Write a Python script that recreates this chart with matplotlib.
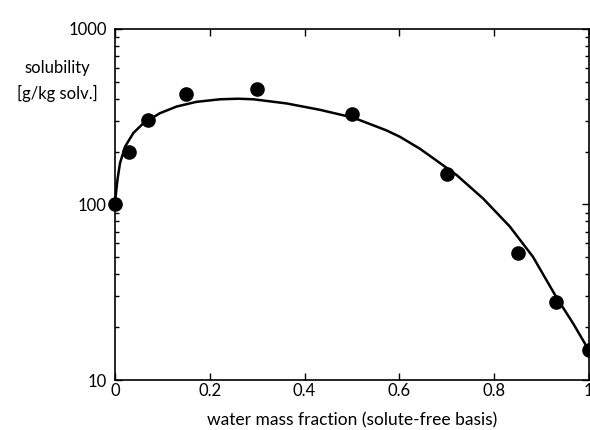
import numpy as np
import matplotlib.pyplot as plt
from matplotlib.ticker import LogLocator, NullFormatter, FixedLocator

plt.rcParams['font.family'] = ['Lato', 'DejaVu Sans']
plt.rcParams['font.size'] = 12

# measured points
x_data = [0.0, 0.03, 0.07, 0.15, 0.30, 0.50, 0.70, 0.85, 0.93, 1.0]
y_data = [100, 198, 303, 425, 457, 329, 150, 53, 28, 14.8]

# fitted curve
x_fit = [0.0, 0.002, 0.005, 0.0105, 0.021, 0.0386, 0.0597, 0.095, 0.130, 0.172,
         0.222, 0.26, 0.292, 0.362, 0.432, 0.503, 0.573, 0.601, 0.643, 0.672,
         0.721, 0.777, 0.833, 0.882, 0.931, 0.967, 1.0]
y_fit = [100, 116, 138, 172, 213, 255, 290, 331, 361, 384,
         397, 400, 397, 376, 346, 312, 264, 243, 208, 183,
         147, 108, 75, 50.4, 29.8, 21, 14.8]

fig = plt.figure(figsize=(5.9, 4.3), dpi=100)
ax = fig.add_axes([0.195, 0.116, 0.803, 0.817])

ax.plot(x_fit, y_fit, color='black', lw=1.8, solid_joinstyle='round', clip_on=False)
ax.plot(x_data, y_data, 'o', color='black', ms=9.5, clip_on=False, zorder=3)

ax.set_yscale('log')
ax.set_xlim(0, 1)
ax.set_ylim(10, 1000)
ax.xaxis.set_major_locator(FixedLocator([0, 0.2, 0.4, 0.6, 0.8, 1.0]))
ax.set_xticklabels(['0', '0.2', '0.4', '0.6', '0.8', '1'])
ax.yaxis.set_major_locator(FixedLocator([10, 100, 1000]))
ax.set_yticklabels(['10', '100', '1000'])
ax.yaxis.set_minor_locator(LogLocator(base=10, subs=np.arange(2, 10)))
ax.yaxis.set_minor_formatter(NullFormatter())

ax.tick_params(which='both', direction='in', top=True, right=True)
ax.tick_params(axis='x', pad=2)
ax.tick_params(axis='y', pad=6)
ax.tick_params(which='major', length=5, width=1)
ax.tick_params(which='minor', length=3, width=1)
for s in ax.spines.values():
    s.set_linewidth(1.2)

fig.text(0.097, 0.812, 'solubility\n[g/kg solv.]', ha='center', va='center',
         linespacing=1.6)
ax.set_xlabel('water mass fraction (solute-free basis)', labelpad=10, fontsize=12.5)

fig.savefig('out.png', dpi=100)
